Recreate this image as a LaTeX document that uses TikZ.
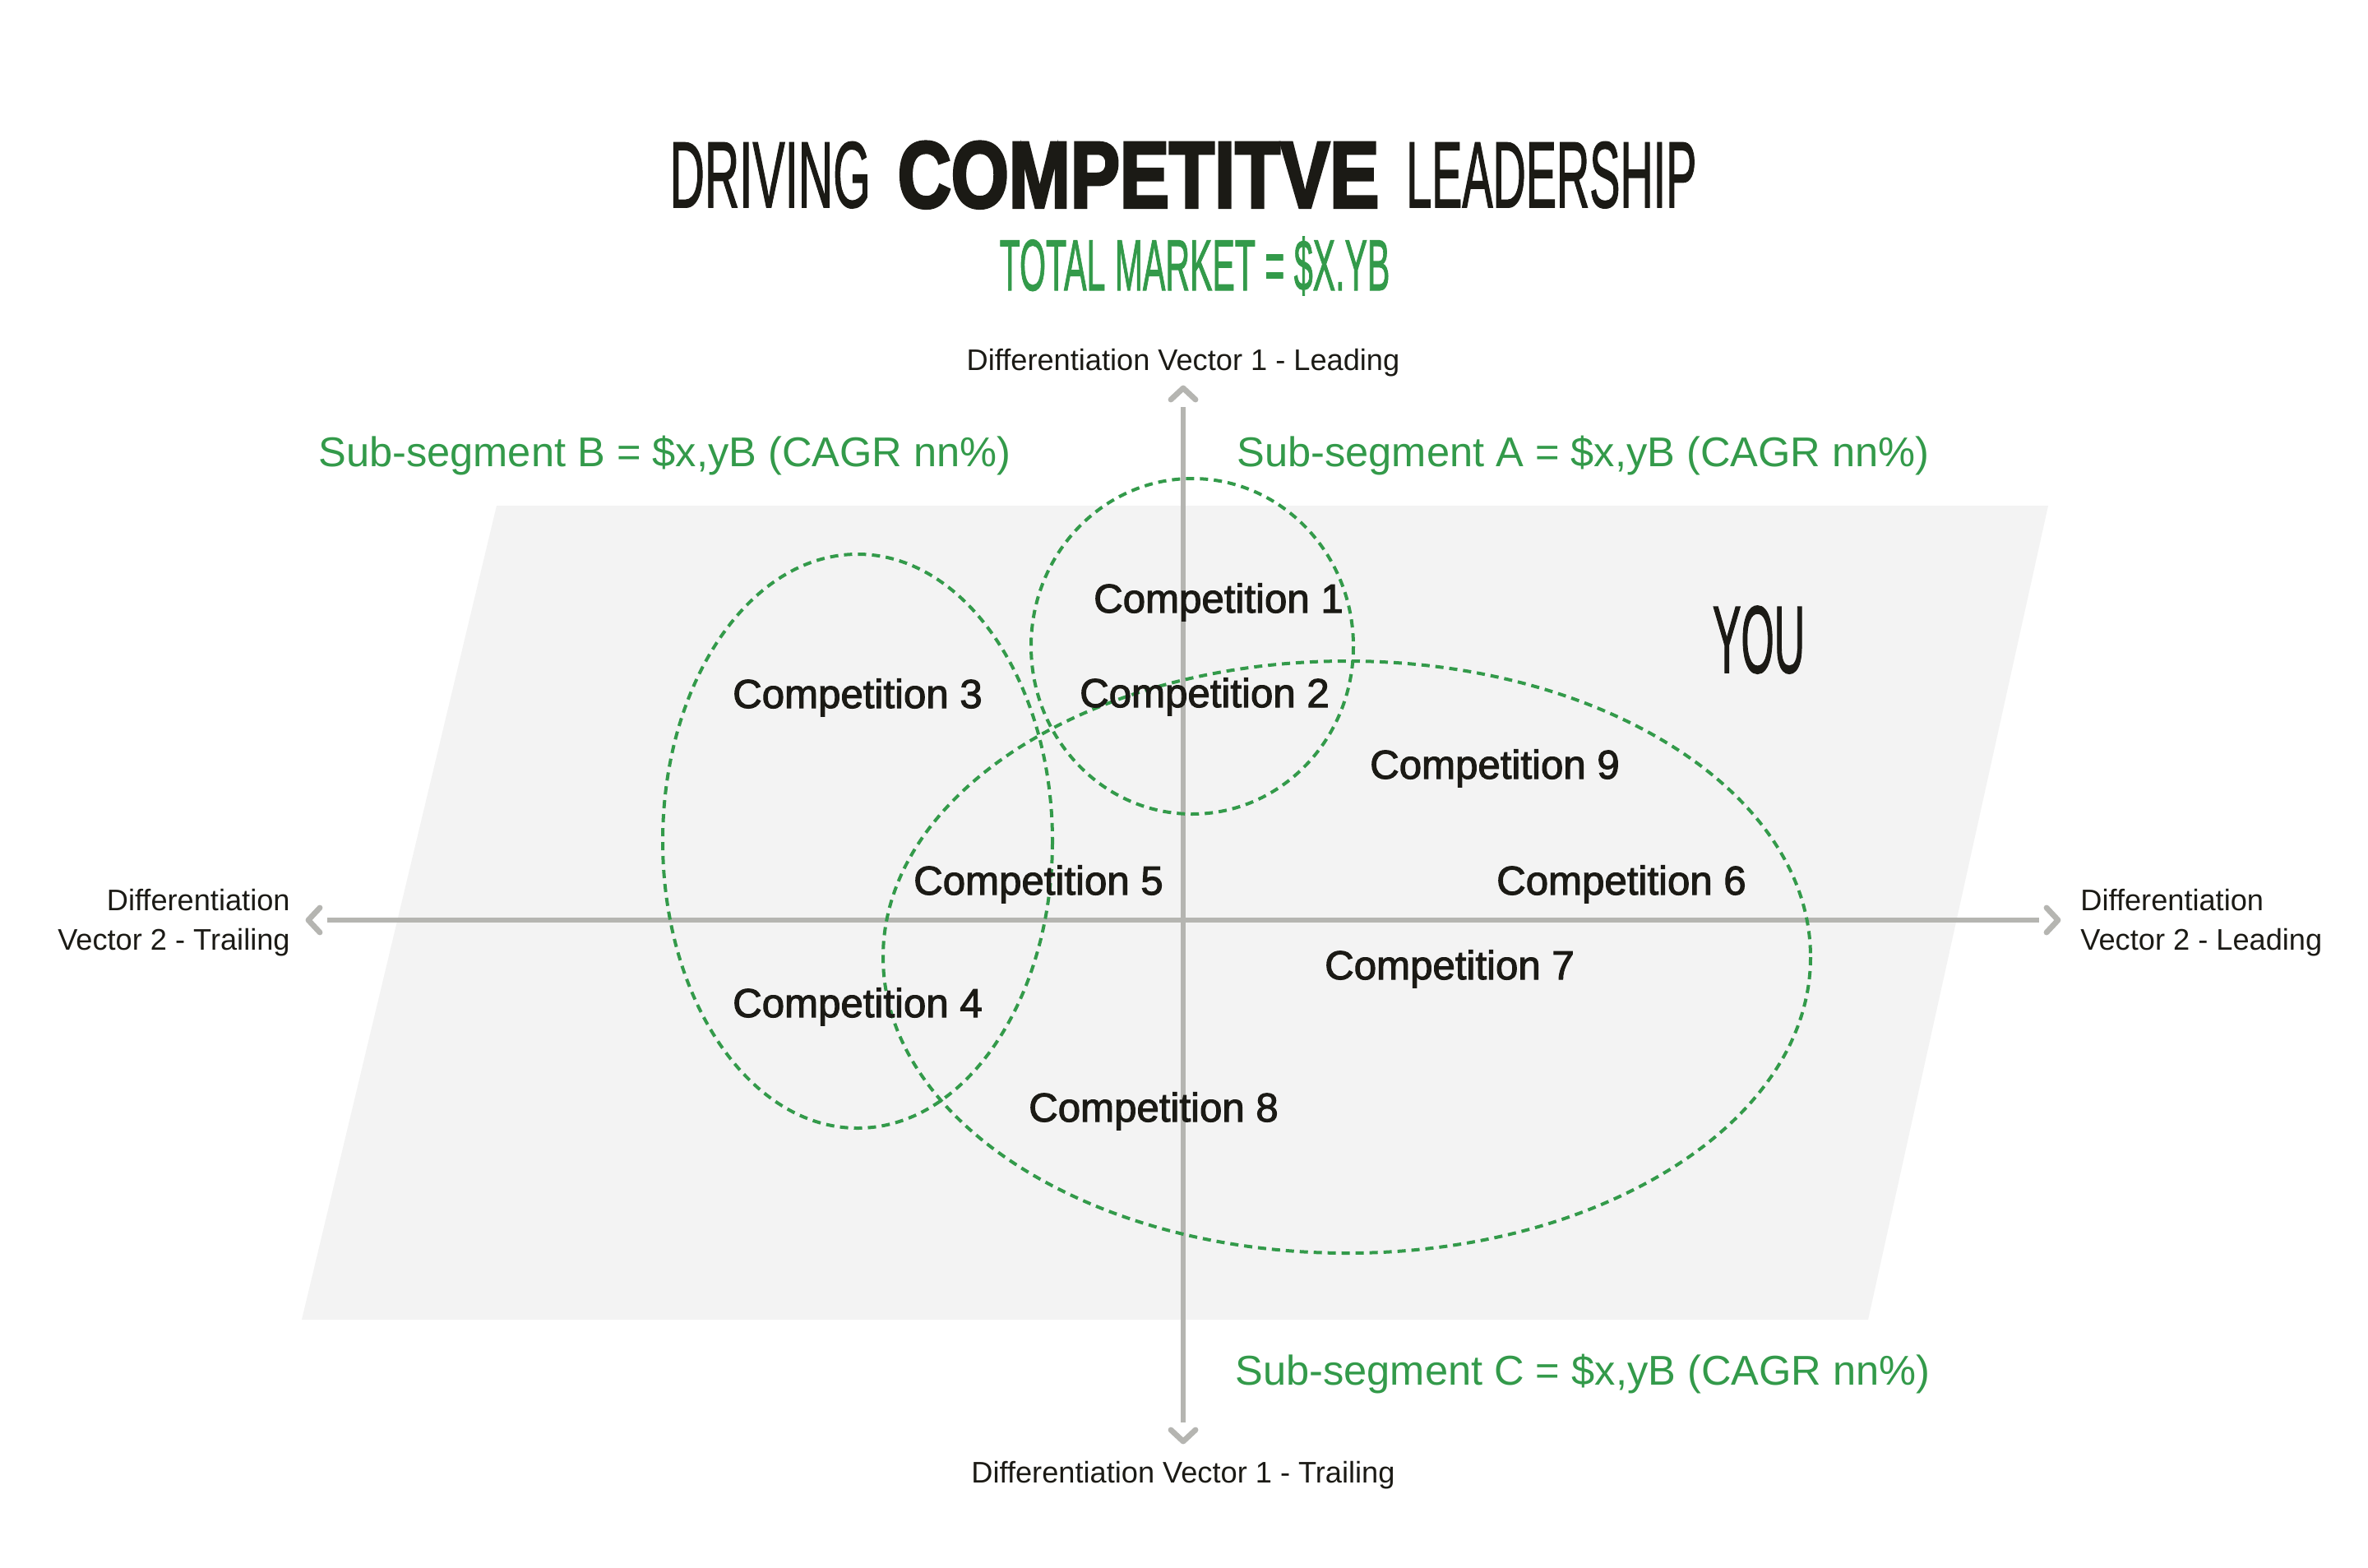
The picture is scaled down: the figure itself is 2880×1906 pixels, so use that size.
\documentclass[tikz,border=0pt]{standalone}
\usepackage{fontspec}
\usepackage{graphicx}
\setmainfont{Liberation Sans}
\newfontfamily\medfont[FakeBold=2.2]{Liberation Sans}
\newfontfamily\condfont[FakeBold=1.6]{Liberation Sans}
\newfontfamily\heavyfont[FakeBold=3.5]{Liberation Sans Bold}
\definecolor{ink}{HTML}{1B1A15}
\definecolor{segreen}{HTML}{339A4A}
\definecolor{axisgray}{HTML}{B5B5B1}
\definecolor{panel}{HTML}{F3F3F3}
\tikzset{
  comp/.style={anchor=base, inner sep=0pt, text=ink, font=\medfont\fontsize{24.6}{28}\selectfont},
  seglabel/.style={anchor=base, inner sep=0pt, text=segreen, font=\fontsize{25.3}{30}\selectfont},
  axislabel/.style={inner sep=0pt, text=ink, font=\fontsize{18.1}{24}\selectfont},
  axisline/.style={draw=axisgray, line width=3pt},
  chev/.style={draw=axisgray, line width=3.4pt, line cap=round, line join=round},
  segring/.style={draw=segreen, line width=2pt, dash pattern=on 5pt off 3.5pt},
}
\begin{document}
\begin{tikzpicture}[x=0.5pt,y=-0.5pt]
\useasboundingbox (0,0) rectangle (2880,1906);
\fill[white] (0,0) rectangle (2880,1906);
% panel
\fill[panel] (604,615) -- (2491,615) -- (2272,1605) -- (367,1605) -- cycle;

% title
\node[anchor=base, inner sep=0pt, text=ink, font=\condfont\fontsize{57}{60}\selectfont] (title) at (1439,252)
  {\scalebox{0.514}[1]{DRIVING}\hspace{16.5pt}{\heavyfont\scalebox{0.79}[1]{COMPETITVE}}\hspace{16.5pt}\scalebox{0.489}[1]{LEADERSHIP}};
\node[anchor=base, inner sep=0pt, text=segreen, font=\condfont\fontsize{44}{48}\selectfont] (subtitle) at (1453,353)
  {\scalebox{0.467}[1]{TOTAL MARKET = \$X.YB}};

% axes
\coordinate (vtip) at (1439,472);
\coordinate (vstart) at (1439,495);
\coordinate (vend) at (1439,1730);
\coordinate (btip) at (1439,1753);
\coordinate (ltip) at (375,1119);
\coordinate (hstart) at (398,1119);
\coordinate (hend) at (2480,1119);
\coordinate (rtip) at (2503,1119);
\draw[axisline] (vstart) -- (vend);
\draw[axisline] (hstart) -- (hend);
\draw[chev] ([shift={(-15,14)}]vtip) -- (vtip) -- ([shift={(15,14)}]vtip);
\draw[chev] ([shift={(-15,-14)}]btip) -- (btip) -- ([shift={(15,-14)}]btip);
\draw[chev] ([shift={(14,-15)}]ltip) -- (ltip) -- ([shift={(14,15)}]ltip);
\draw[chev] ([shift={(-14,-15)}]rtip) -- (rtip) -- ([shift={(-14,15)}]rtip);

% axis labels
\node[axislabel, anchor=base] (toplabel) at (1439,450) {Differentiation Vector 1 - Leading};
\node[axislabel, anchor=base] (botlabel) at (1439,1803) {Differentiation Vector 1 - Trailing};
\node[axislabel, anchor=north east, align=right] (leftlabel) at (353,1081) {Differentiation\\Vector 2 - Trailing};
\node[axislabel, anchor=north west, align=left] (rightlabel) at (2530,1081) {Differentiation\\Vector 2 - Leading};

% segment rings
\coordinate (ringB) at (1043,1023);
\coordinate (ringA) at (1450,786);
\coordinate (ringC) at (1638,1164);
\draw[segring] (ringB) ellipse [x radius=237, y radius=349];
\draw[segring] (ringA) ellipse [x radius=196, y radius=204];
\draw[segring] (ringC) ellipse [x radius=564, y radius=360];

% segment labels
\node[seglabel, anchor=base west] (segB) at (387,567) {Sub-segment B = \$x,yB (CAGR nn\%)};
\node[seglabel, anchor=base west] (segA) at (1504,567) {Sub-segment A = \$x,yB (CAGR nn\%)};
\node[seglabel, anchor=base west] (segC) at (1502,1684) {Sub-segment C = \$x,yB (CAGR nn\%)};

% competitors
\node[comp] (c1) at (1482,745) {Competition 1};
\node[comp] (c2) at (1465,860) {Competition 2};
\node[comp] (c3) at (1043,861) {Competition 3};
\node[comp] (c4) at (1043,1237) {Competition 4};
\node[comp] (c5) at (1263,1088) {Competition 5};
\node[comp] (c6) at (1972,1088) {Competition 6};
\node[comp] (c7) at (1763,1191) {Competition 7};
\node[comp] (c8) at (1403,1364) {Competition 8};
\node[comp] (c9) at (1818,947) {Competition 9};

% you
\node[anchor=base, inner sep=0pt, text=ink, font=\condfont\fontsize{58}{62}\selectfont] (you) at (2139,818) {\scalebox{0.446}[1]{YOU}};
\end{tikzpicture}
\end{document}
